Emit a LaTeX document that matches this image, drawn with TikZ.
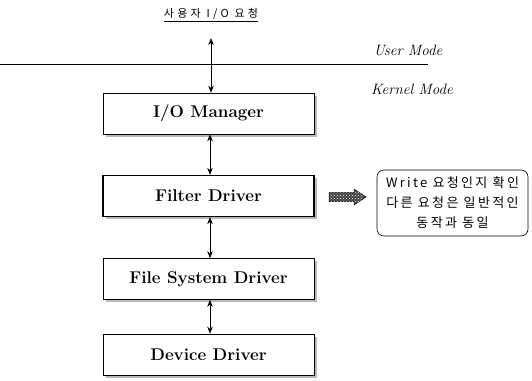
\documentclass[tikz,border=0pt]{standalone}
\usepackage{fontspec}
\newfontfamily\kr{Noto Sans CJK KR}
\usetikzlibrary{patterns,arrows.meta,shadows}
\begin{document}
\begin{tikzpicture}[x=1pt,y=-1pt,
  layer/.style={draw, line width=0.6pt, fill=white, minimum width=211pt,
    minimum height=41pt, inner sep=0pt,
    font=\bfseries\fontsize{17}{20}\selectfont,
    general shadow={shadow xshift=2.5pt, shadow yshift=-2.5pt,
      fill=black!28}},
  link/.style={{Stealth[length=7pt,width=5.5pt]}-{Stealth[length=7pt,width=5.5pt]},
    line width=0.6pt},
  modelabel/.style={font=\itshape\fontsize{15}{17}\selectfont},
  bigarrow/.style={draw=black, line width=0.5pt, fill=black!75,
    postaction={pattern=crosshatch dots, pattern color=white}},
  note/.style={draw, rounded corners=7pt, line width=0.6pt, fill=white,
    minimum width=151pt, minimum height=66pt, align=center,
    font=\kr\fontsize{13}{20}\selectfont\addfontfeature{LetterSpace=18}}]
\useasboundingbox (0,0) rectangle (532,380);

% user request and the mode boundary
\node[font=\kr\fontsize{11}{13}\selectfont\addfontfeature{LetterSpace=30}] (req) at (211,15) {\underline{사용자 I/O 요청}};
\draw[line width=0.6pt] (0,64) -- (428,64);
\node[modelabel] (um) at (408,50) {User Mode};
\node[modelabel] (km) at (412,89) {Kernel Mode};

% driver stack
\node[layer] (io) at (208.5,113.5) {I/O Manager};
\node[layer, line width=1.3pt] (flt) at (208.5,196) {Filter Driver};
\node[layer] (fs) at (208.5,279) {File System Driver};
\node[layer] (dev) at (208.5,354.5) {Device Driver};

\draw[link, shorten <=13pt] (req.south) -- (req.south |- io.north);
\draw[link] ([xshift=1.5pt]io.south) -- ([xshift=1.5pt]flt.north);
\draw[link] ([xshift=1.5pt]flt.south) -- ([xshift=1.5pt]fs.north);
\draw[link] ([xshift=1.5pt]fs.south) -- ([xshift=1.5pt]dev.north);

% what the filter does
\coordinate (go) at (329,197);
\draw[bigarrow] (go) ++(0,-4.5) -- ++(25,0) -- ++(0,-3.5) -- ++(12,8)
  -- ++(-12,8) -- ++(0,-3.5) -- ++(-25,0) -- cycle;
\node[note] (desc) at (452.5,203) {Write 요청인지 확인\\다른 요청은 일반적인\\동작과 동일};
\end{tikzpicture}
\end{document}
